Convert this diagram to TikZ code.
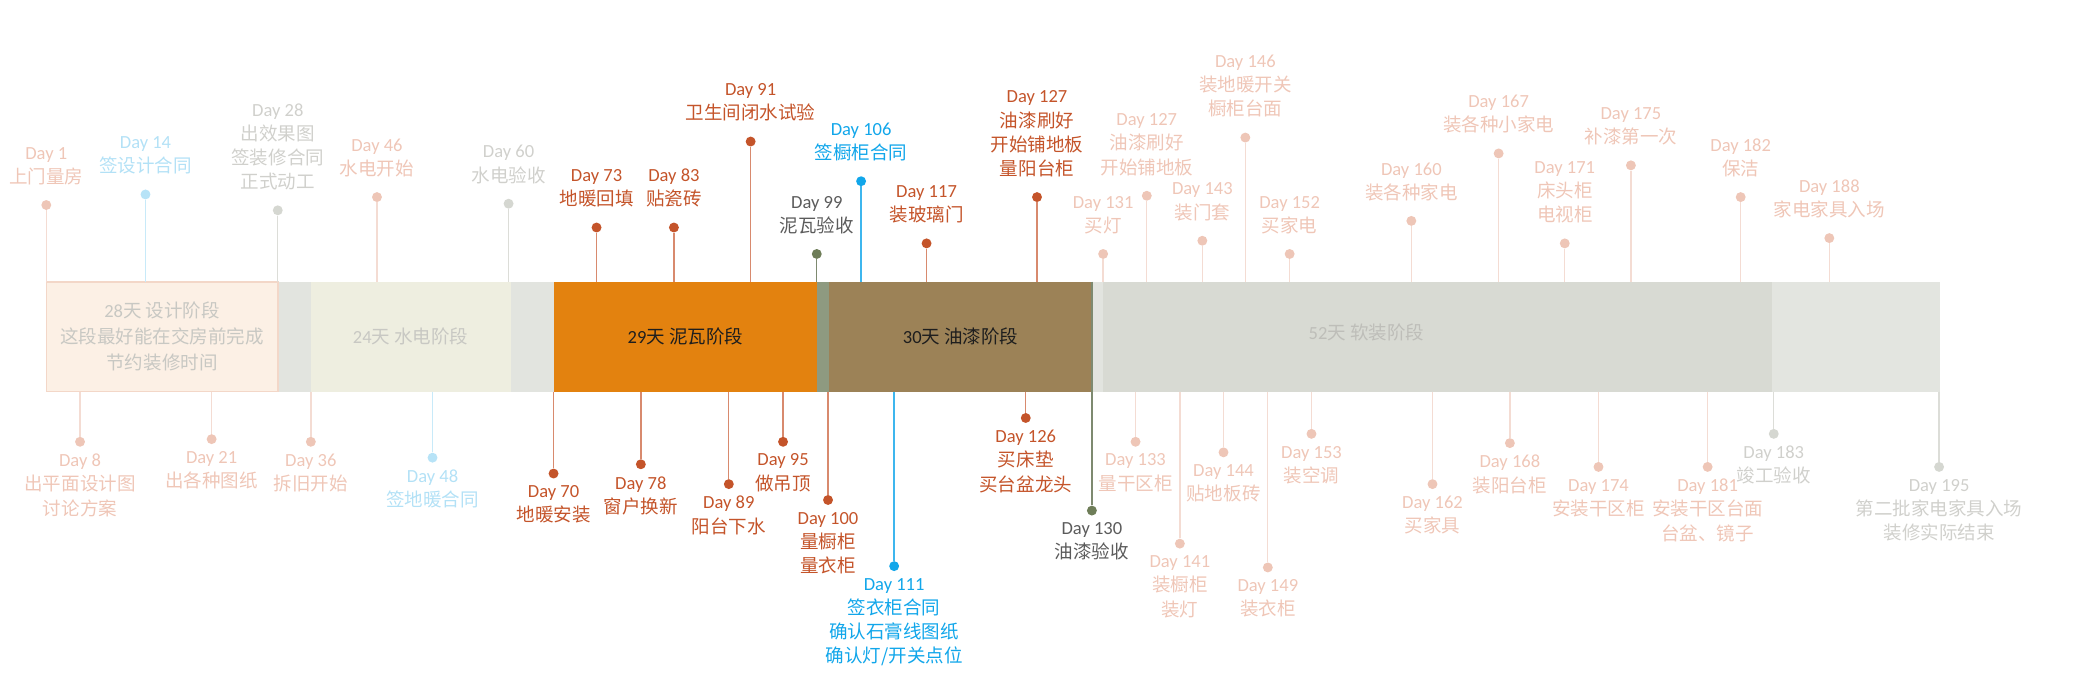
\documentclass[tikz,border=0pt]{standalone}
\usepackage{fontspec}
\setmainfont{Noto Sans CJK SC}
\newfontfamily\lat{Carlito}
\definecolor{pkT}{HTML}{EFC6B7}
\definecolor{pkD}{HTML}{EEC6B7}
\definecolor{pkL}{HTML}{F4DCD3}
\definecolor{blT}{HTML}{B3E1F6}
\definecolor{blD}{HTML}{B7E3F7}
\definecolor{blL}{HTML}{C8EAF9}
\definecolor{gyT}{HTML}{D0D0CC}
\definecolor{gyD}{HTML}{D5D7D1}
\definecolor{gyL}{HTML}{DCDDD8}
\definecolor{rdT}{HTML}{C4542A}
\definecolor{rdD}{HTML}{C4542A}
\definecolor{rdL}{HTML}{D88A6E}
\definecolor{BLT}{HTML}{11A6EA}
\definecolor{BLD}{HTML}{11A6EA}
\definecolor{BLL}{HTML}{3DB6EE}
\definecolor{gnT}{HTML}{5B5B5B}
\definecolor{gnD}{HTML}{6E7D58}
\definecolor{gnL}{HTML}{7E8A70}
\definecolor{segT}{HTML}{C8C8C3}
\newcommand\dy[1]{{\lat Day #1}}
\newcommand\nm[1]{{\lat #1}}
\tikzset{
 lbl/.style={align=center, inner sep=0pt, font=\fontsize{14}{18.3}\selectfont},
 dotst/.style={circle, inner sep=0pt, minimum size=7.5pt},
 conn/.style={line width=1pt},
 seg/.style={inner sep=0pt, outer sep=0pt, anchor=north west, minimum height=83pt,
   align=center, font=\fontsize{14}{19.5}\selectfont}
}
\newcommand\evu[5]{%
 \coordinate (#1b) at (#2,213);
 \node[dotst, fill=#4D] (#1) at (#2,#3) {};
 \draw[conn, #4L] (#1) -- (#1b);
 \node[lbl, text=#4T, anchor=south] (#1t) at (#2,#3-15) {#5};
}
\newcommand\evd[5]{%
 \coordinate (#1b) at (#2,296);
 \node[dotst, fill=#4D] (#1) at (#2,#3) {};
 \draw[conn, #4L] (#1b) -- (#1);
 \node[lbl, text=#4T, anchor=north] (#1t) at (#2,#3+9) {#5};
}
\begin{document}
\begin{tikzpicture}[x=1pt,y=-1pt]
\useasboundingbox (0,0) rectangle (1568,517);
% phases
\node[seg, fill={rgb,255:red,226;green,228;blue,223}, minimum width=25pt] (g1) at (210,213) {};
\node[seg, fill={rgb,255:red,238;green,238;blue,224}, minimum width=151pt, text=segT] (s2) at (235,213) {\nm{24}天 水电阶段};
\node[seg, fill={rgb,255:red,226;green,228;blue,223}, minimum width=32.5pt] (g2) at (386,213) {};
\node[seg, fill={rgb,255:red,227;green,130;blue,15}, minimum width=199.5pt, text={rgb,255:red,30;green,30;blue,30}] (s3) at (418.5,213) {\nm{29}天 泥瓦阶段};
\node[seg, fill={rgb,255:red,142;green,154;blue,128}, minimum width=8.5pt] (g3) at (618,213) {};
\node[seg, fill={rgb,255:red,156;green,130;blue,87}, minimum width=199.5pt, text={rgb,255:red,30;green,30;blue,30}] (s4) at (626.5,213) {\nm{30}天 油漆阶段};
\node[seg, fill={rgb,255:red,226;green,228;blue,223}, minimum width=8pt] (g4) at (826,213) {};
\node[seg, fill={rgb,255:red,216;green,218;blue,211}, minimum width=506pt] (s5) at (834,213) {};
\node[seg, fill={rgb,255:red,227;green,229;blue,224}, minimum width=126.5pt] (s6) at (1340,213) {};
\node[lbl, text={rgb,255:red,190;green,190;blue,185}] (s5t) at (1033,251) {\nm{52}天 软装阶段};
\node[seg, fill={rgb,255:red,252;green,240;blue,229}, draw={rgb,255:red,243;green,215;blue,200}, line width=1.2pt, minimum width=175pt, text=segT] (s1) at (35,213) {\nm{28}天 设计阶段\\这段最好能在交房前完成\\节约装修时间};
% events above
\evu{e1}{35}{155}{pk}{\dy{1}\\上门量房}
\evu{e14}{110}{147}{bl}{\dy{14}\\签设计合同}
\evu{e28}{210}{159}{gy}{\dy{28}\\出效果图\\签装修合同\\正式动工}
\evu{e46}{285}{149}{pk}{\dy{46}\\水电开始}
\evu{e60}{384.5}{154}{gy}{\dy{60}\\水电验收}
\evu{e73}{451}{172}{rd}{\dy{73}\\地暖回填}
\evu{e83}{509.5}{172}{rd}{\dy{83}\\贴瓷砖}
\evu{e91}{567.5}{107}{rd}{\dy{91}\\卫生间闭水试验}
\evu{e99}{617.5}{192}{gn}{\dy{99}\\泥瓦验收}
\evu{e106}{651}{137}{BL}{\dy{106}\\签橱柜合同}
\evu{e117}{700.5}{184}{rd}{\dy{117}\\装玻璃门}
\evu{e127}{784}{149}{rd}{\dy{127}\\油漆刷好\\开始铺地板\\量阳台柜}
\evu{e131}{834}{192}{pk}{\dy{131}\\买灯}
\evu{e127b}{867}{148}{pk}{\dy{127}\\油漆刷好\\开始铺地板}
\evu{e143}{909}{182}{pk}{\dy{143}\\装门套}
\evu{e146}{941.5}{104}{pk}{\dy{146}\\装地暖开关\\橱柜台面}
\evu{e152}{975}{192}{pk}{\dy{152}\\买家电}
\evu{e160}{1067}{167}{pk}{\dy{160}\\装各种家电}
\evu{e167}{1133}{116}{pk}{\dy{167}\\装各种小家电}
\evu{e171}{1183}{184}{pk}{\dy{171}\\床头柜\\电视柜}
\evu{e175}{1233}{125}{pk}{\dy{175}\\补漆第一次}
\evu{e182}{1316}{149}{pk}{\dy{182}\\保洁}
\evu{e188}{1383}{180}{pk}{\dy{188}\\家电家具入场}
% events below
\evd{f8}{60.5}{334}{pk}{\dy{8}\\出平面设计图\\讨论方案}
\evd{f21}{160}{332}{pk}{\dy{21}\\出各种图纸}
\evd{f36}{235}{334}{pk}{\dy{36}\\拆旧开始}
\evd{f48}{327}{346}{bl}{\dy{48}\\签地暖合同}
\evd{f70}{418.5}{358}{rd}{\dy{70}\\地暖安装}
\evd{f78}{484.5}{351}{rd}{\dy{78}\\窗户换新}
\evd{f89}{551}{366}{rd}{\dy{89}\\阳台下水}
\evd{f95}{592}{334}{rd}{\dy{95}\\做吊顶}
\evd{f100}{626}{378}{rd}{\dy{100}\\量橱柜\\量衣柜}
\evd{f111}{676}{428}{BL}{\dy{111}\\签衣柜合同\\确认石膏线图纸\\确认灯/开关点位}
\evd{f126}{775.5}{316}{rd}{\dy{126}\\买床垫\\买台盆龙头}
\evd{f130}{825.5}{386}{gn}{\dy{130}\\油漆验收}
\coordinate (f130top) at (825.5,213);
\draw[conn, gnL] (f130top) -- (f130b);
\evd{f133}{858.5}{334}{pk}{\dy{133}\\量干区柜}
\evd{f141}{892}{411}{pk}{\dy{141}\\装橱柜\\装灯}
\evd{f144}{925}{342}{pk}{\dy{144}\\贴地板砖}
\evd{f149}{958.5}{429}{pk}{\dy{149}\\装衣柜}
\evd{f153}{991.5}{328}{pk}{\dy{153}\\装空调}
\evd{f162}{1083}{366}{pk}{\dy{162}\\买家具}
\evd{f168}{1141.5}{335}{pk}{\dy{168}\\装阳台柜}
\evd{f174}{1208.5}{353}{pk}{\dy{174}\\安装干区柜}
\evd{f181}{1291}{353}{pk}{\dy{181}\\安装干区台面\\台盆、镜子}
\evd{f183}{1341}{328}{gy}{\dy{183}\\竣工验收}
\evd{f195}{1466}{353}{gy}{\dy{195}\\第二批家电家具入场\\装修实际结束}
\end{tikzpicture}
\end{document}
